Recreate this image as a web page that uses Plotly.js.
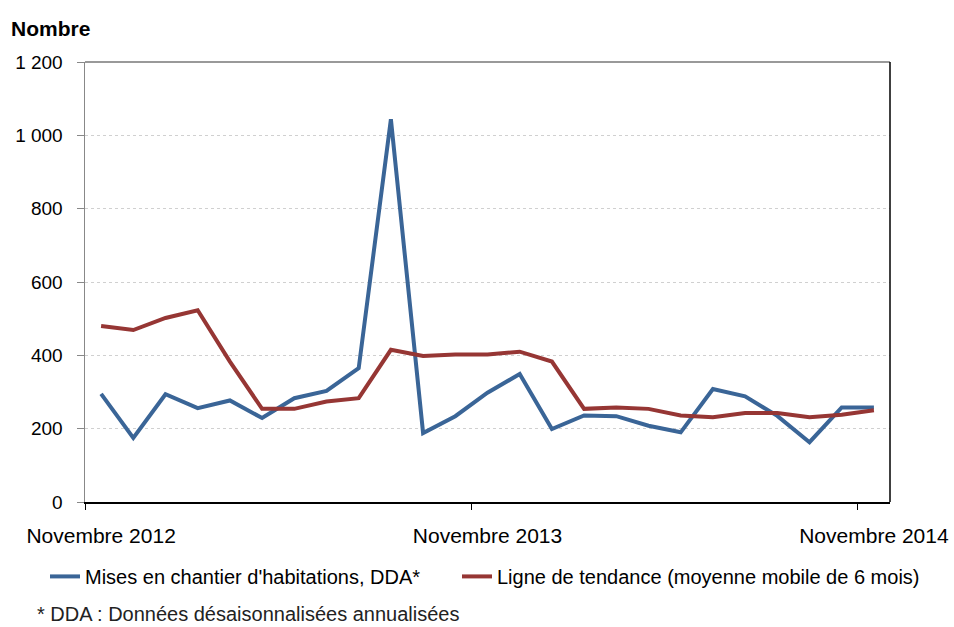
<!DOCTYPE html>
<html>
<head>
<meta charset="utf-8">
<script src="https://cdn.plot.ly/plotly-3.0.1.min.js"></script>
<style>html,body{margin:0;padding:0;background:#fff;}#chart{width:954px;height:627px;}</style>
</head>
<body>
<div id="chart"></div>
<script>
var months = ["2012-11","2012-12","2013-01","2013-02","2013-03","2013-04","2013-05","2013-06","2013-07","2013-08","2013-09","2013-10","2013-11","2013-12","2014-01","2014-02","2014-03","2014-04","2014-05","2014-06","2014-07","2014-08","2014-09","2014-10","2014-11"];
var misesEnChantier = [295,175,294,256,277,229,283,303,365,1044,188,234,298,349,199,236,234,208,190,308,288,235,163,258,258];
var tendance = [480,469,502,523,383,254,254,274,283,415,398,402,402,410,383,254,258,254,236,231,243,243,231,238,250];
var xTickLabels = ["Novembre 2012","Novembre 2013","Novembre 2014"];
var xTickIdx = [0,12,24];
var yTickVals = [0,200,400,600,800,1000,1200];
var yTickText = ["0","200","400","600","800","1 000","1 200"];

var idx = months.map(function(m,i){return i;});
var font = "Liberation Sans, Arial, sans-serif";

var traces = [
  {x: idx, y: misesEnChantier, type: "scatter", mode: "lines",
   name: "Mises en chantier d'habitations, DDA*", legend: "legend",
   line: {color: "#3A6597", width: 4}},
  {x: idx, y: tendance, type: "scatter", mode: "lines",
   name: "Ligne de tendance (moyenne mobile de 6 mois)", legend: "legend2",
   line: {color: "#963634", width: 4}},
  {x: [0], y: [null], xaxis: "x2", yaxis: "y", showlegend: false, hoverinfo: "skip", mode: "lines"}
];

var boundaryTicks = xTickIdx.map(function(v){return v - 0.5;});
var W = 805, H = 440.5, L = 85, T = 62;
function px(x){return (x - L)/W;}
function py(y){return 1 - (y - T)/H;}
var legendFont = {family: font, size: 20, color: "#000"};

var layout = {
  width: 954, height: 627,
  margin: {l: 85, r: 64, t: 62, b: 124.5},
  paper_bgcolor: "#fff", plot_bgcolor: "#fff",
  font: {family: font, size: 20, color: "#000"},
  showlegend: true,
  legend: {orientation: "h", x: px(45), xanchor: "left", y: py(577), yanchor: "middle",
           font: legendFont, bgcolor: "rgba(0,0,0,0)", borderwidth: 0},
  legend2: {orientation: "h", x: px(457), xanchor: "left", y: py(577), yanchor: "middle",
           font: legendFont, bgcolor: "rgba(0,0,0,0)", borderwidth: 0},
  xaxis: {range: [-0.5, 24.5], tickvals: boundaryTicks, ticktext: ["","",""],
          ticks: "outside", ticklen: 6, tickcolor: "#000", tickwidth: 1,
          showgrid: false, zeroline: false, showline: true, linecolor: "#000", linewidth: 1.5,
          mirror: false, fixedrange: true},
  xaxis2: {overlaying: "x", matches: "x", range: [-0.5, 24.5], side: "bottom", anchor: "y",
           tickvals: xTickIdx, ticktext: xTickLabels, ticks: "", showgrid: false, zeroline: false,
           showline: false, tickfont: {family: font, size: 21, color: "#000"}, ticklabelstandoff: 19},
  yaxis: {range: [0, 1200], tickvals: yTickVals, ticktext: yTickText,
          ticks: "outside", ticklen: 7, tickcolor: "#888", tickwidth: 1,
          showgrid: true, gridcolor: "#d0d0d0", griddash: "dot", gridwidth: 1,
          zeroline: false, showline: true, linecolor: "#888", linewidth: 1.5,
          tickfont: {family: font, size: 19, color: "#000"}, ticklabelstandoff: 10, fixedrange: true},
  shapes: [
    {type: "line", xref: "paper", yref: "paper", x0: 0, x1: 1, y0: 1, y1: 1, line: {color: "#777", width: 1.5}},
    {type: "line", xref: "paper", yref: "paper", x0: 1, x1: 1, y0: 0, y1: 1, line: {color: "#000", width: 1.5}}
  ],
  annotations: [
    {text: "<b>Nombre</b>", xref: "paper", yref: "paper", x: px(9), y: py(28),
     xanchor: "left", yanchor: "middle", showarrow: false,
     font: {family: font, size: 21, color: "#000"}},
    {text: "* DDA : Données désaisonnalisées annualisées", xref: "paper", yref: "paper",
     x: px(35), y: py(615), xanchor: "left", yanchor: "middle", showarrow: false,
     font: {family: font, size: 20, color: "#222"}}
  ]
};

Plotly.newPlot("chart", traces, layout, {displayModeBar: false, staticPlot: true});
</script>
</body>
</html>
